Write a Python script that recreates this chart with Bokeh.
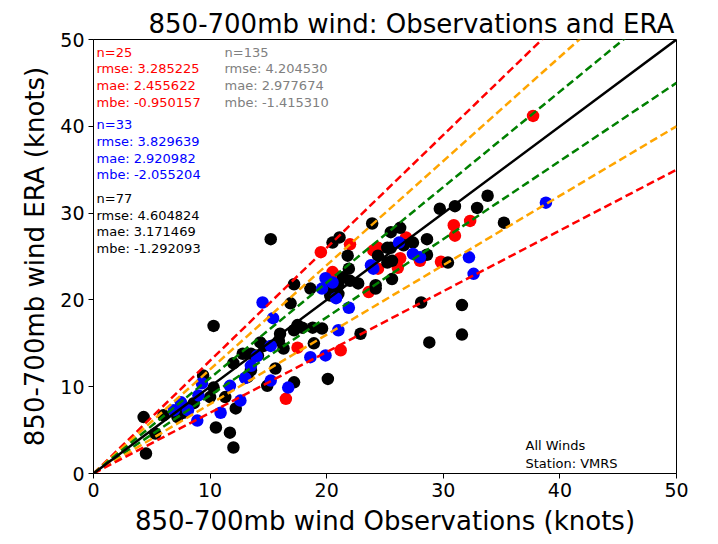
from bokeh.plotting import figure
from bokeh.models import Range1d, FixedTicker, Title
from bokeh.core.properties import value
from bokeh.embed import file_html
from bokeh.resources import INLINE

# ---------------- data ----------------
red_obs = [37.7, 32.3, 30.9, 31.0, 29.8, 26.8, 24.0, 26.3, 26.1, 24.4, 19.5, 20.5, 23.6, 17.5, 21.2, 16.5, 22.0, 20.7, 24.4, 28.0]
red_era = [41.2, 29.1, 28.6, 27.4, 24.4, 27.2, 25.7, 24.8, 23.7, 23.6, 25.5, 23.2, 20.9, 14.5, 14.2, 8.6, 26.4, 22.8, 26.0, 24.5]

blue_obs = [38.8, 32.2, 32.6, 26.2, 27.4, 28.0, 24.0, 23.8, 19.9, 19.6, 14.5, 20.8, 21.9, 15.4, 21.0, 15.2, 18.6, 19.9,
            15.2, 16.7, 13.5, 11.7, 9.3, 12.6, 10.9, 7.5, 8.1, 8.9, 6.9, 13.0, 20.5, 9.0, 14.0]
blue_era = [31.2, 24.9, 23.0, 26.6, 25.3, 24.9, 23.6, 24.0, 22.5, 21.3, 19.7, 20.2, 19.1, 17.9, 16.5, 14.7, 13.4, 13.6,
            10.7, 9.9, 12.4, 10.1, 10.4, 8.4, 7.0, 8.2, 7.3, 6.1, 7.3, 11.0, 22.0, 9.0, 13.5]

black_obs = [4.3, 4.5, 10.5, 11.7, 12.0, 12.2, 10.3, 15.2, 20.1, 28.1, 31.6, 31.6, 28.8, 33.8, 32.9, 29.7, 31.0, 35.2,
             30.4, 23.9, 25.5, 26.3, 27.4, 28.6, 25.5, 26.6, 24.4, 28.6, 25.6, 25.6, 24.2, 20.5, 21.1, 21.8, 21.9, 21.4,
             17.2, 18.6, 20.2, 22.0, 22.7, 25.2, 25.2, 20.3, 21.0, 21.0, 24.2, 16.9, 17.5, 17.9, 17.2, 18.8, 19.6, 16.0,
             15.9, 14.3, 16.3, 18.9, 13.5, 14.1, 22.9, 15.6, 13.5, 17.2, 14.6, 12.8, 12.0, 13.2, 9.4, 10.3, 10.0, 11.3,
             14.9, 8.6, 7.7, 7.2, 6.0, 5.3]
black_era = [6.5, 2.3, 5.3, 4.7, 3.0, 7.5, 17.0, 27.0, 10.9, 19.7, 19.4, 16.0, 15.1, 32.0, 30.6, 30.5, 30.8, 28.9,
             24.3, 28.8, 27.8, 28.3, 26.6, 27.0, 26.0, 26.3, 25.1, 25.2, 24.5, 22.4, 21.7, 26.6, 27.2, 25.1, 23.6, 22.6,
             21.8, 21.3, 21.4, 22.2, 21.9, 24.3, 26.0, 20.5, 21.7, 20.7, 21.3, 19.6, 17.1, 16.8, 16.5, 16.8, 16.7, 16.1,
             15.3, 15.1, 14.4, 15.0, 13.8, 13.6, 16.1, 12.1, 11.9, 10.5, 14.7, 13.8, 12.7, 11.1, 11.3, 9.9, 8.8, 8.8,
             10.1, 8.1, 7.0, 6.5, 6.7, 4.6]

ref_slopes = [1.3, 1.2, 1.1, 0.9, 0.8, 0.7]
ref_colors = ["#ff0000", "orange", "green", "green", "orange", "#ff0000"]

stats_red = ["n=25", "rmse: 3.285225", "mae: 2.455622", "mbe: -0.950157"]
stats_blue = ["n=33", "rmse: 3.829639", "mae: 2.920982", "mbe: -2.055204"]
stats_black = ["n=77", "rmse: 4.604824", "mae: 3.171469", "mbe: -1.292093"]
stats_all = ["n=135", "rmse: 4.204530", "mae: 2.977674", "mbe: -1.415310"]
note_lines = ["All Winds", "Station: VMRS"]

AX_MAX = 50
FONT = "DejaVu Sans"

# ---------------- figure ----------------
p = figure(width=718, height=544, output_backend="svg", toolbar_location=None,
           x_range=Range1d(0, AX_MAX), y_range=Range1d(0, AX_MAX),
           min_border_left=93, min_border_right=42, min_border_top=39, min_border_bottom=71)
p.background_fill_color = "white"
p.border_fill_color = "white"
p.outline_line_color = "black"
p.outline_line_width = 1
p.xgrid.visible = False
p.ygrid.visible = False

p.title = Title(text="850-700mb wind: Observations and ERA", text_font=FONT, text_font_size="26px",
                text_font_style="normal", align="left", offset=55, text_color="black", standoff=2)

for ax in (p.xaxis[0], p.yaxis[0]):
    ax.ticker = FixedTicker(ticks=[0, 10, 20, 30, 40, 50])
    ax.major_label_text_font = FONT
    ax.major_label_text_font_size = "19px"
    ax.major_label_text_color = "black"
    ax.axis_label_text_font = FONT
    ax.axis_label_text_font_size = "26px"
    ax.axis_label_text_font_style = "normal"
    ax.axis_label_text_color = "black"
    ax.major_tick_in = 0
    ax.major_tick_out = 5
    ax.minor_tick_in = 0
    ax.minor_tick_out = 0
    ax.axis_line_color = "black"
    ax.major_tick_line_color = "black"
p.xaxis[0].axis_label = "850-700mb wind Observations (knots)"
p.yaxis[0].axis_label = "850-700mb wind ERA (knots)"
p.xaxis[0].axis_label_standoff = 6
p.yaxis[0].axis_label_standoff = 7
p.xaxis[0].major_label_standoff = 4
p.yaxis[0].major_label_standoff = 4

# ---------------- scatter ----------------
p.scatter(red_obs, red_era, size=12.5, color="#ff0000", line_color=None)
p.scatter(black_obs, black_era, size=12.5, color="black", line_color=None)
p.scatter(blue_obs, blue_era, size=12.5, color="#0000ff", line_color=None)

# ---------------- reference lines ----------------
for s, c in zip(ref_slopes, ref_colors):
    p.line([0, AX_MAX], [0, AX_MAX * s], line_color=c, line_width=2.5, line_dash="8 4")
p.line([0, AX_MAX], [0, AX_MAX], line_color="black", line_width=2.5)

# ---------------- statistics text ----------------
def px_to_x(px):
    return (px - 93) / 583 * AX_MAX

def px_to_y(py):
    return (473 - py) / 434 * AX_MAX

def add_block(lines, x_px, y_px_list, color):
    p.text(x=[px_to_x(x_px)] * len(lines), y=[px_to_y(v) for v in y_px_list], text=lines,
           text_font=value(FONT), text_font_size="13px", text_color=color,
           text_baseline="middle", text_align="left")

add_block(stats_red, 96, [51.5, 68.3, 85, 101.5], "#ff0000")
add_block(stats_all, 224, [51.5, 68.3, 85, 101.5], "#808080")
add_block(stats_blue, 96, [124.3, 141.3, 157.7, 174.3], "#0000ff")
add_block(stats_black, 96, [197.7, 214.5, 231, 248], "black")
add_block(note_lines, 525, [445, 462.5], "black")

open("out.html", "w").write(file_html(p, INLINE))
